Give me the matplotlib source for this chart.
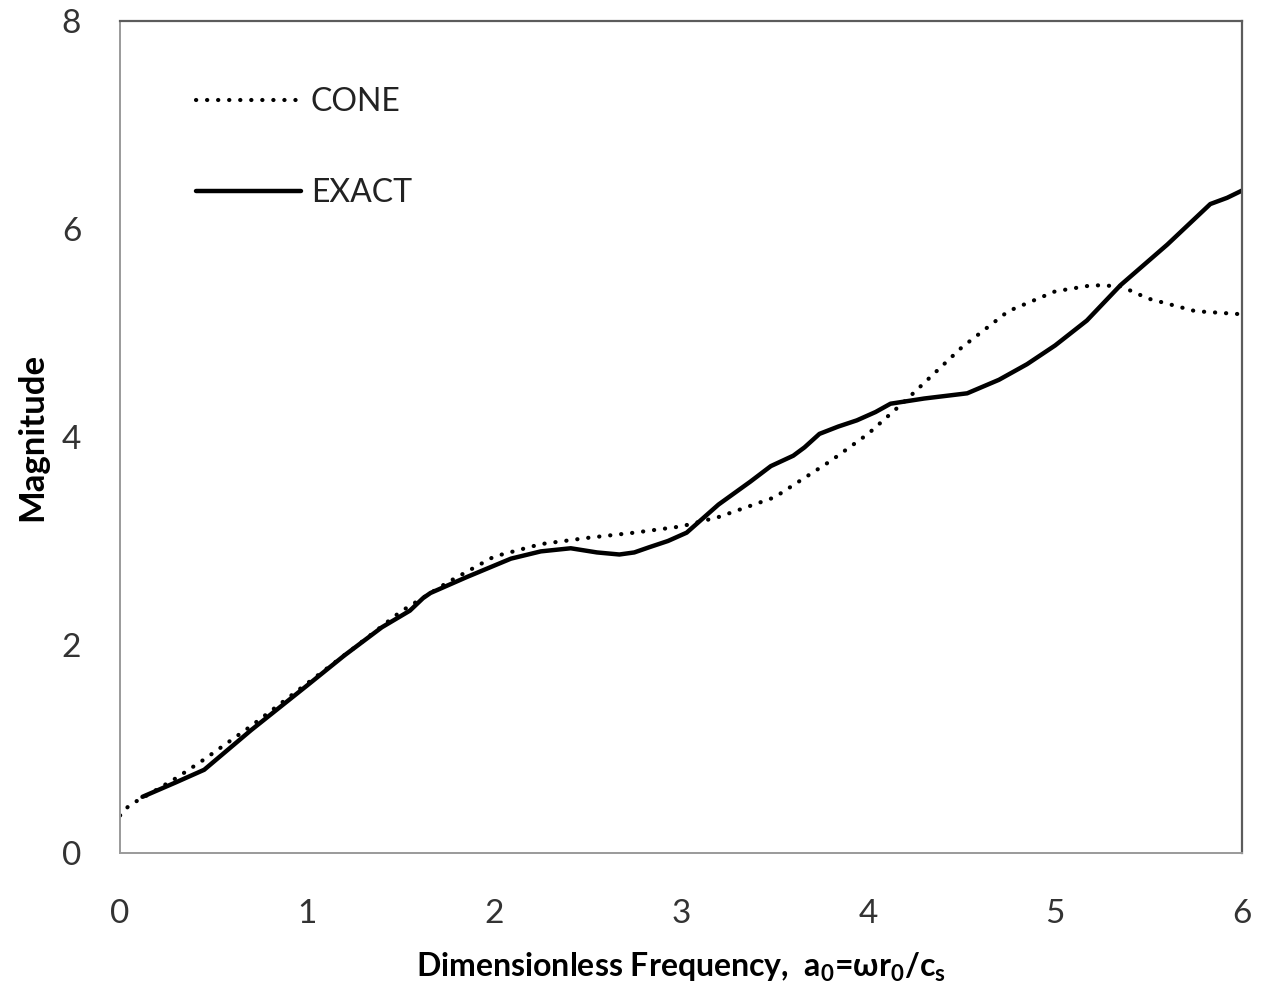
import matplotlib
matplotlib.use('Agg')
import matplotlib.pyplot as plt

# Values
cone_x = [0.0, 0.04, 0.09, 0.16, 0.3, 0.45, 0.7, 1.0, 1.25, 1.5, 1.75, 2.0, 2.25, 2.5, 2.75, 3.0,
          3.2, 3.5, 3.8, 4.0, 4.2, 4.5, 4.75, 5.0, 5.2, 5.35, 5.5, 5.75, 6.0]
cone_y = [0.36, 0.44, 0.50, 0.57, 0.72, 0.90, 1.22, 1.63, 1.97, 2.32, 2.60, 2.85, 2.97, 3.03, 3.08, 3.14,
          3.23, 3.42, 3.77, 4.03, 4.35, 4.86, 5.21, 5.40, 5.46, 5.45, 5.33, 5.21, 5.18]

exact_x = [0.12, 0.3, 0.45, 0.7, 1.0, 1.2, 1.4, 1.55, 1.62, 1.66, 1.85, 2.09, 2.25, 2.41, 2.55, 2.67,
           2.75, 2.83, 2.93, 3.03, 3.2, 3.37, 3.48, 3.6, 3.66, 3.74, 3.84, 3.94, 4.04, 4.12, 4.3,
           4.53, 4.7, 4.85, 5.0, 5.17, 5.35, 5.6, 5.83, 5.92, 6.0]
exact_y = [0.54, 0.68, 0.80, 1.18, 1.61, 1.90, 2.17, 2.33, 2.45, 2.50, 2.65, 2.83, 2.90, 2.93, 2.89, 2.87,
           2.89, 2.94, 3.00, 3.08, 3.35, 3.57, 3.72, 3.82, 3.90, 4.03, 4.10, 4.16, 4.24, 4.32, 4.37,
           4.42, 4.55, 4.70, 4.88, 5.12, 5.46, 5.85, 6.24, 6.30, 6.37]

plt.rcParams['font.family'] = ['Lato', 'DejaVu Sans']
plt.rcParams['mathtext.fontset'] = 'custom'
plt.rcParams['mathtext.bf'] = 'Lato:bold'
plt.rcParams['mathtext.rm'] = 'Lato:bold'

fig = plt.figure(figsize=(12.61, 9.82), dpi=100)
ax = fig.add_axes([0.0952, 0.1314, 0.8898, 0.8472])

ax.plot(cone_x, cone_y, color='black', lw=3.0, linestyle=(0, (0.05, 2.6)),
        dash_capstyle='round', label='CONE')
ax.plot(exact_x, exact_y, color='black', lw=3.2, solid_capstyle='round',
        solid_joinstyle='round', label='EXACT')

ax.set_xlim(0, 6)
ax.set_ylim(0, 8)
ax.set_xticks(range(0, 7))
ax.set_yticks([0, 2, 4, 6, 8])
ax.tick_params(length=0, labelsize=24, labelcolor='#333333')
ax.tick_params(axis='x', pad=33)
ax.tick_params(axis='y', pad=28)
for side in ['left', 'bottom']:
    ax.spines[side].set_color('#9a9a9a')
    ax.spines[side].set_linewidth(1.4)
for side in ['top', 'right']:
    ax.spines[side].set_color('#5c5c5c')
    ax.spines[side].set_linewidth(1.6)

ax.set_xlabel(r'Dimensionless Frequency,  a$_\mathbf{0}$=ωr$_\mathbf{0}$/c$_\mathbf{s}$',
              fontsize=23, fontweight='bold', labelpad=16)
ax.set_ylabel('Magnitude', fontsize=25, fontweight='bold', labelpad=10)

leg = ax.legend(loc='upper left', frameon=False, fontsize=23, handlelength=3.3,
                handletextpad=0.3, labelspacing=1.9, bbox_to_anchor=(0.042, 0.955))
for t in leg.get_texts():
    t.set_color('#222222')

fig.savefig('out.png', dpi=100)
